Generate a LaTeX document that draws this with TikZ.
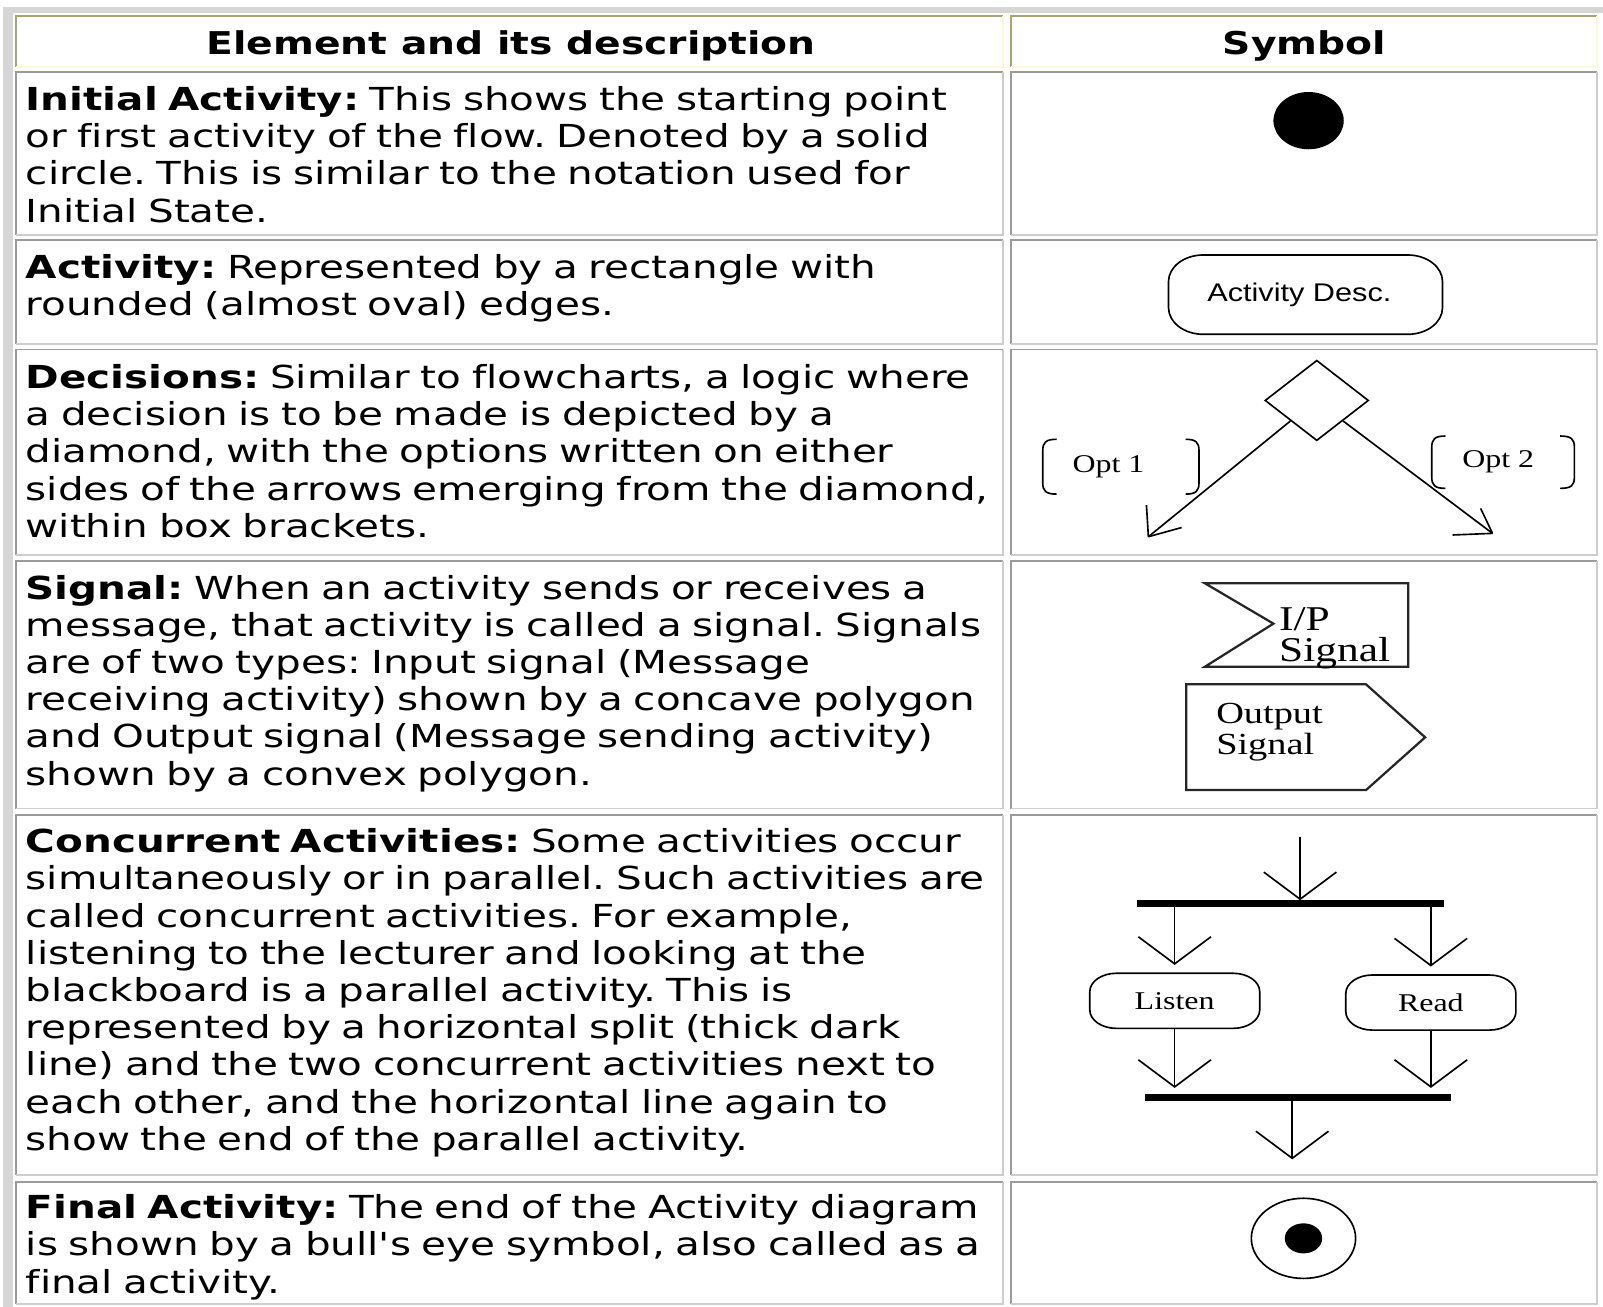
\documentclass[tikz,border=0pt]{standalone}
\usepackage{fontspec}
\setmainfont{DejaVu Sans}
\newfontfamily\descfont{DejaVu Sans}[FakeStretch=1.277, Ligatures=NoCommon]
\newfontfamily\hdrfont{DejaVu Sans}[FakeStretch=1.25, Ligatures=NoCommon]
\newfontfamily\symserif{Liberation Serif}[FakeStretch=1.25]
\newfontfamily\symsans{Liberation Sans}[FakeStretch=1.2]
\usetikzlibrary{shapes.geometric,arrows.meta}
\definecolor{hdrdark}{RGB}{165,165,120}
\definecolor{hdrlight}{RGB}{250,250,215}
\definecolor{celldark}{RGB}{155,155,155}
\definecolor{celllight}{RGB}{205,205,205}
\definecolor{framegray}{RGB}{214,214,214}
\frenchspacing

\newcommand\cellbox[6]{%
  \draw[#5,line width=1.6pt] (#1,#4) -- (#1,#2) -- (#3,#2);
  \draw[#6,line width=1.6pt] (#3,#2) -- (#3,#4) -- (#1,#4);}
\newcommand\pill[6]{%
  \draw[symline] ({#1+#5},#2) -- ({#3-#5},#2)
    .. controls ({#3-0.448*#5},#2) and (#3,{#2+0.448*#6}) .. (#3,{#2+#6})
    -- (#3,{#4-#6})
    .. controls (#3,{#4-0.448*#6}) and ({#3-0.448*#5},#4) .. ({#3-#5},#4)
    -- ({#1+#5},#4)
    .. controls ({#1+0.448*#5},#4) and (#1,{#4-0.448*#6}) .. (#1,{#4-#6})
    -- (#1,{#2+#6})
    .. controls (#1,{#2+0.448*#6}) and ({#1+0.448*#5},#2) .. ({#1+#5},#2) -- cycle;}
\newcommand\lbrk[4]{%
  \draw[symline] (#3,#2) .. controls ({#1+3},#2) and (#1,{#2+3}) .. (#1,{#2+11})
    -- (#1,{#4-11}) .. controls (#1,{#4-3}) and ({#1+3},#4) .. (#3,#4);}
\newcommand\rbrk[4]{%
  \draw[symline] (#1,#2) .. controls ({#3-3},#2) and (#3,{#2+3}) .. (#3,{#2+11})
    -- (#3,{#4-11}) .. controls (#3,{#4-3}) and ({#3-3},#4) .. (#1,#4);}

\tikzset{
  desc/.style={anchor=base west, inner sep=0pt, text width=980pt, align=left,
    font=\descfont\frenchspacing\fontsize{31}{36.4}\selectfont},
  hdr/.style={anchor=base, inner sep=0pt, font=\hdrfont\bfseries\fontsize{30.7}{36.4}\selectfont},
  symline/.style={line width=1.6pt, black},
  sigline/.style={line width=2.2pt, black!85},
  barb/.style={-{Straight Barb[length=26.5pt,width=71pt]}},
  serif25/.style={font=\symserif\fontsize{25}{30}\selectfont, inner sep=0pt},
  bar/.style={fill=black, inner sep=0pt, minimum height=6.5pt},
}

\begin{document}
\begin{tikzpicture}[x=1pt,y=-1pt]
\useasboundingbox (0,0) rectangle (1568,1278);
\fill[white] (0,0) rectangle (1568,1278);
\fill[framegray] (3,6.5) rectangle (1568,12.7);
\fill[framegray] (3,6.5) rectangle (12.4,1278);

% table cells
\cellbox{15.6}{15.6}{981}{65.5}{hdrdark}{hdrlight}
\cellbox{989}{15.6}{1562}{65.5}{hdrdark}{hdrlight}
\cellbox{15.6}{70.3}{981}{230}{celldark}{celllight}
\cellbox{989}{70.3}{1562}{230}{celldark}{celllight}
\cellbox{15.6}{235}{981}{336.5}{celldark}{celllight}
\cellbox{989}{235}{1562}{336.5}{celldark}{celllight}
\cellbox{15.6}{342}{981}{543}{celldark}{celllight}
\cellbox{989}{342}{1562}{543}{celldark}{celllight}
\cellbox{15.6}{549}{981}{791}{celldark}{celllight}
\cellbox{989}{549}{1562}{791}{celldark}{celllight}
\cellbox{15.6}{797}{981}{1149.5}{celldark}{celllight}
\cellbox{989}{797}{1562}{1149.5}{celldark}{celllight}
\cellbox{15.6}{1156}{981}{1275.5}{celldark}{celllight}
\cellbox{989}{1156}{1562}{1275.5}{celldark}{celllight}

% header
\node[hdr] (h1) at (500,53) {Element and its description};
\node[hdr] (h2) at (1276,53) {Symbol};

% descriptions
\node[desc] (d1) at (25,108) {\textbf{Initial Activity:} This shows the starting point\\or first activity of the flow. Denoted by a solid\\circle. This is similar to the notation used for\\Initial State.};
\node[desc] (d2) at (25,272) {\textbf{Activity:} Represented by a rectangle with\\rounded (almost oval) edges.};
\node[desc] (d3) at (25,380) {\textbf{Decisions:} Similar to flowcharts, a logic where\\a decision is to be made is depicted by a\\diamond, with the options written on either\\sides of the arrows emerging from the diamond,\\within box brackets.};
\node[desc] (d4) at (25,586) {\textbf{Signal:} When an activity sends or receives a\\message, that activity is called a signal. Signals\\are of two types: Input signal (Message\\receiving activity) shown by a concave polygon\\and Output signal (Message sending activity)\\shown by a convex polygon.};
\node[desc] (d5) at (25,834) {\textbf{Concurrent Activities:} Some activities occur\\simultaneously or in parallel. Such activities are\\called concurrent activities. For example,\\listening to the lecturer and looking at the\\blackboard is a parallel activity. This is\\represented by a horizontal split (thick dark\\line) and the two concurrent activities next to\\each other, and the horizontal line again to\\show the end of the parallel activity.};
\node[desc] (d6) at (25,1192) {\textbf{Final Activity:} The end of the Activity diagram\\is shown by a bull's eye symbol, also called as a\\final activity.};

% initial activity
\node[ellipse, fill=black, minimum width=68.8pt, minimum height=56pt, inner sep=0pt] (init) at (1280,118) {};

% activity
\node[anchor=base, inner sep=0pt, font=\symsans\fontsize{25}{30}\selectfont] (act) at (1271,295) {Activity Desc.};
\pill{1143}{249.4}{1411}{327}{34}{26}

% decision
\node[diamond, draw, symline, minimum width=101.4pt, minimum height=78.7pt, inner sep=0pt] (dec) at (1288,391.7) {};
\coordinate (tipL) at (1123.3,525);
\coordinate (tipR) at (1459.9,521.7);
\draw[symline] (dec.south west) -- (tipL);
\draw[symline] (tipL) -- ++(-1.9,-31);
\draw[symline] (tipL) -- ++(32.5,-9);
\draw[symline] (dec.south east) -- (tipR);
\draw[symline] (tipR) -- ++(-39.1,1.6);
\draw[symline] (tipR) -- ++(-11.6,-24.4);
\node[serif25, anchor=base] (opt1) at (1084.3,462.4) {Opt 1};
\node[serif25, anchor=base] (opt2) at (1465.5,457) {Opt 2};
\lbrk{1020}{429.7}{1033.5}{483.3}
\rbrk{1159.7}{429.7}{1172.8}{483.3}
\lbrk{1400.5}{426.5}{1413.9}{477.7}
\rbrk{1526}{426.5}{1540}{477.7}

% signals
\draw[sigline] (1178.7,570.6) -- (1377.6,570.6) -- (1377.6,652.1) -- (1178.7,652.1) -- (1245.6,610) -- cycle;
\node[anchor=base west, inner sep=0pt, text width=150pt, align=left, font=\symserif\fontsize{34}{31}\selectfont] (ipsig) at (1251,616.3) {I/P\\Signal};
\draw[sigline] (1160.4,669.4) -- (1336.2,669.4) -- (1394,721.2) -- (1336.2,772.8) -- (1160.4,772.8) -- cycle;
\node[anchor=base west, inner sep=0pt, text width=150pt, align=left, font=\symserif\fontsize{30}{30}\selectfont] (opsig) at (1189.5,707.6) {Output\\Signal};

% concurrent
\coordinate (cstart) at (1271.7,818.4);
\node[bar, minimum width=300.2pt] (fork) at (1261.9,884) {};
\node[serif25, minimum width=166pt, minimum height=54pt] (listen) at (1149,979) {Listen};
\node[serif25, minimum width=166.4pt, minimum height=54pt] (read) at (1399.6,980.6) {Read};
\pill{1066}{952}{1232.2}{1005.9}{26}{18}
\pill{1316.4}{953.7}{1482.8}{1007.6}{26}{18}
\node[bar, minimum width=299.7pt] (join) at (1269.9,1073.6) {};
\coordinate (cend) at (1264,1134);
\draw[symline,barb] (cstart) -- (cstart |- fork.north);
\draw[symline,barb,shorten >=8pt] (fork.south -| listen.north) -- (listen.north);
\draw[symline,barb,shorten >=8pt] (fork.south -| read.north) -- (read.north);
\draw[symline,barb,shorten >=6pt] (listen.south) -- (listen.south |- join.north);
\draw[symline,barb,shorten >=6pt] (read.south) -- (read.south |- join.north);
\draw[symline,barb] (join.south -| cend) -- (cend);

% final
\node[ellipse, draw, symline, minimum width=102pt, minimum height=78.4pt, inner sep=0pt] (fin) at (1275,1211.3) {};
\node[ellipse, fill=black, minimum width=36.6pt, minimum height=29.4pt, inner sep=0pt] (fininner) at (fin.center) {};
\end{tikzpicture}
\end{document}
